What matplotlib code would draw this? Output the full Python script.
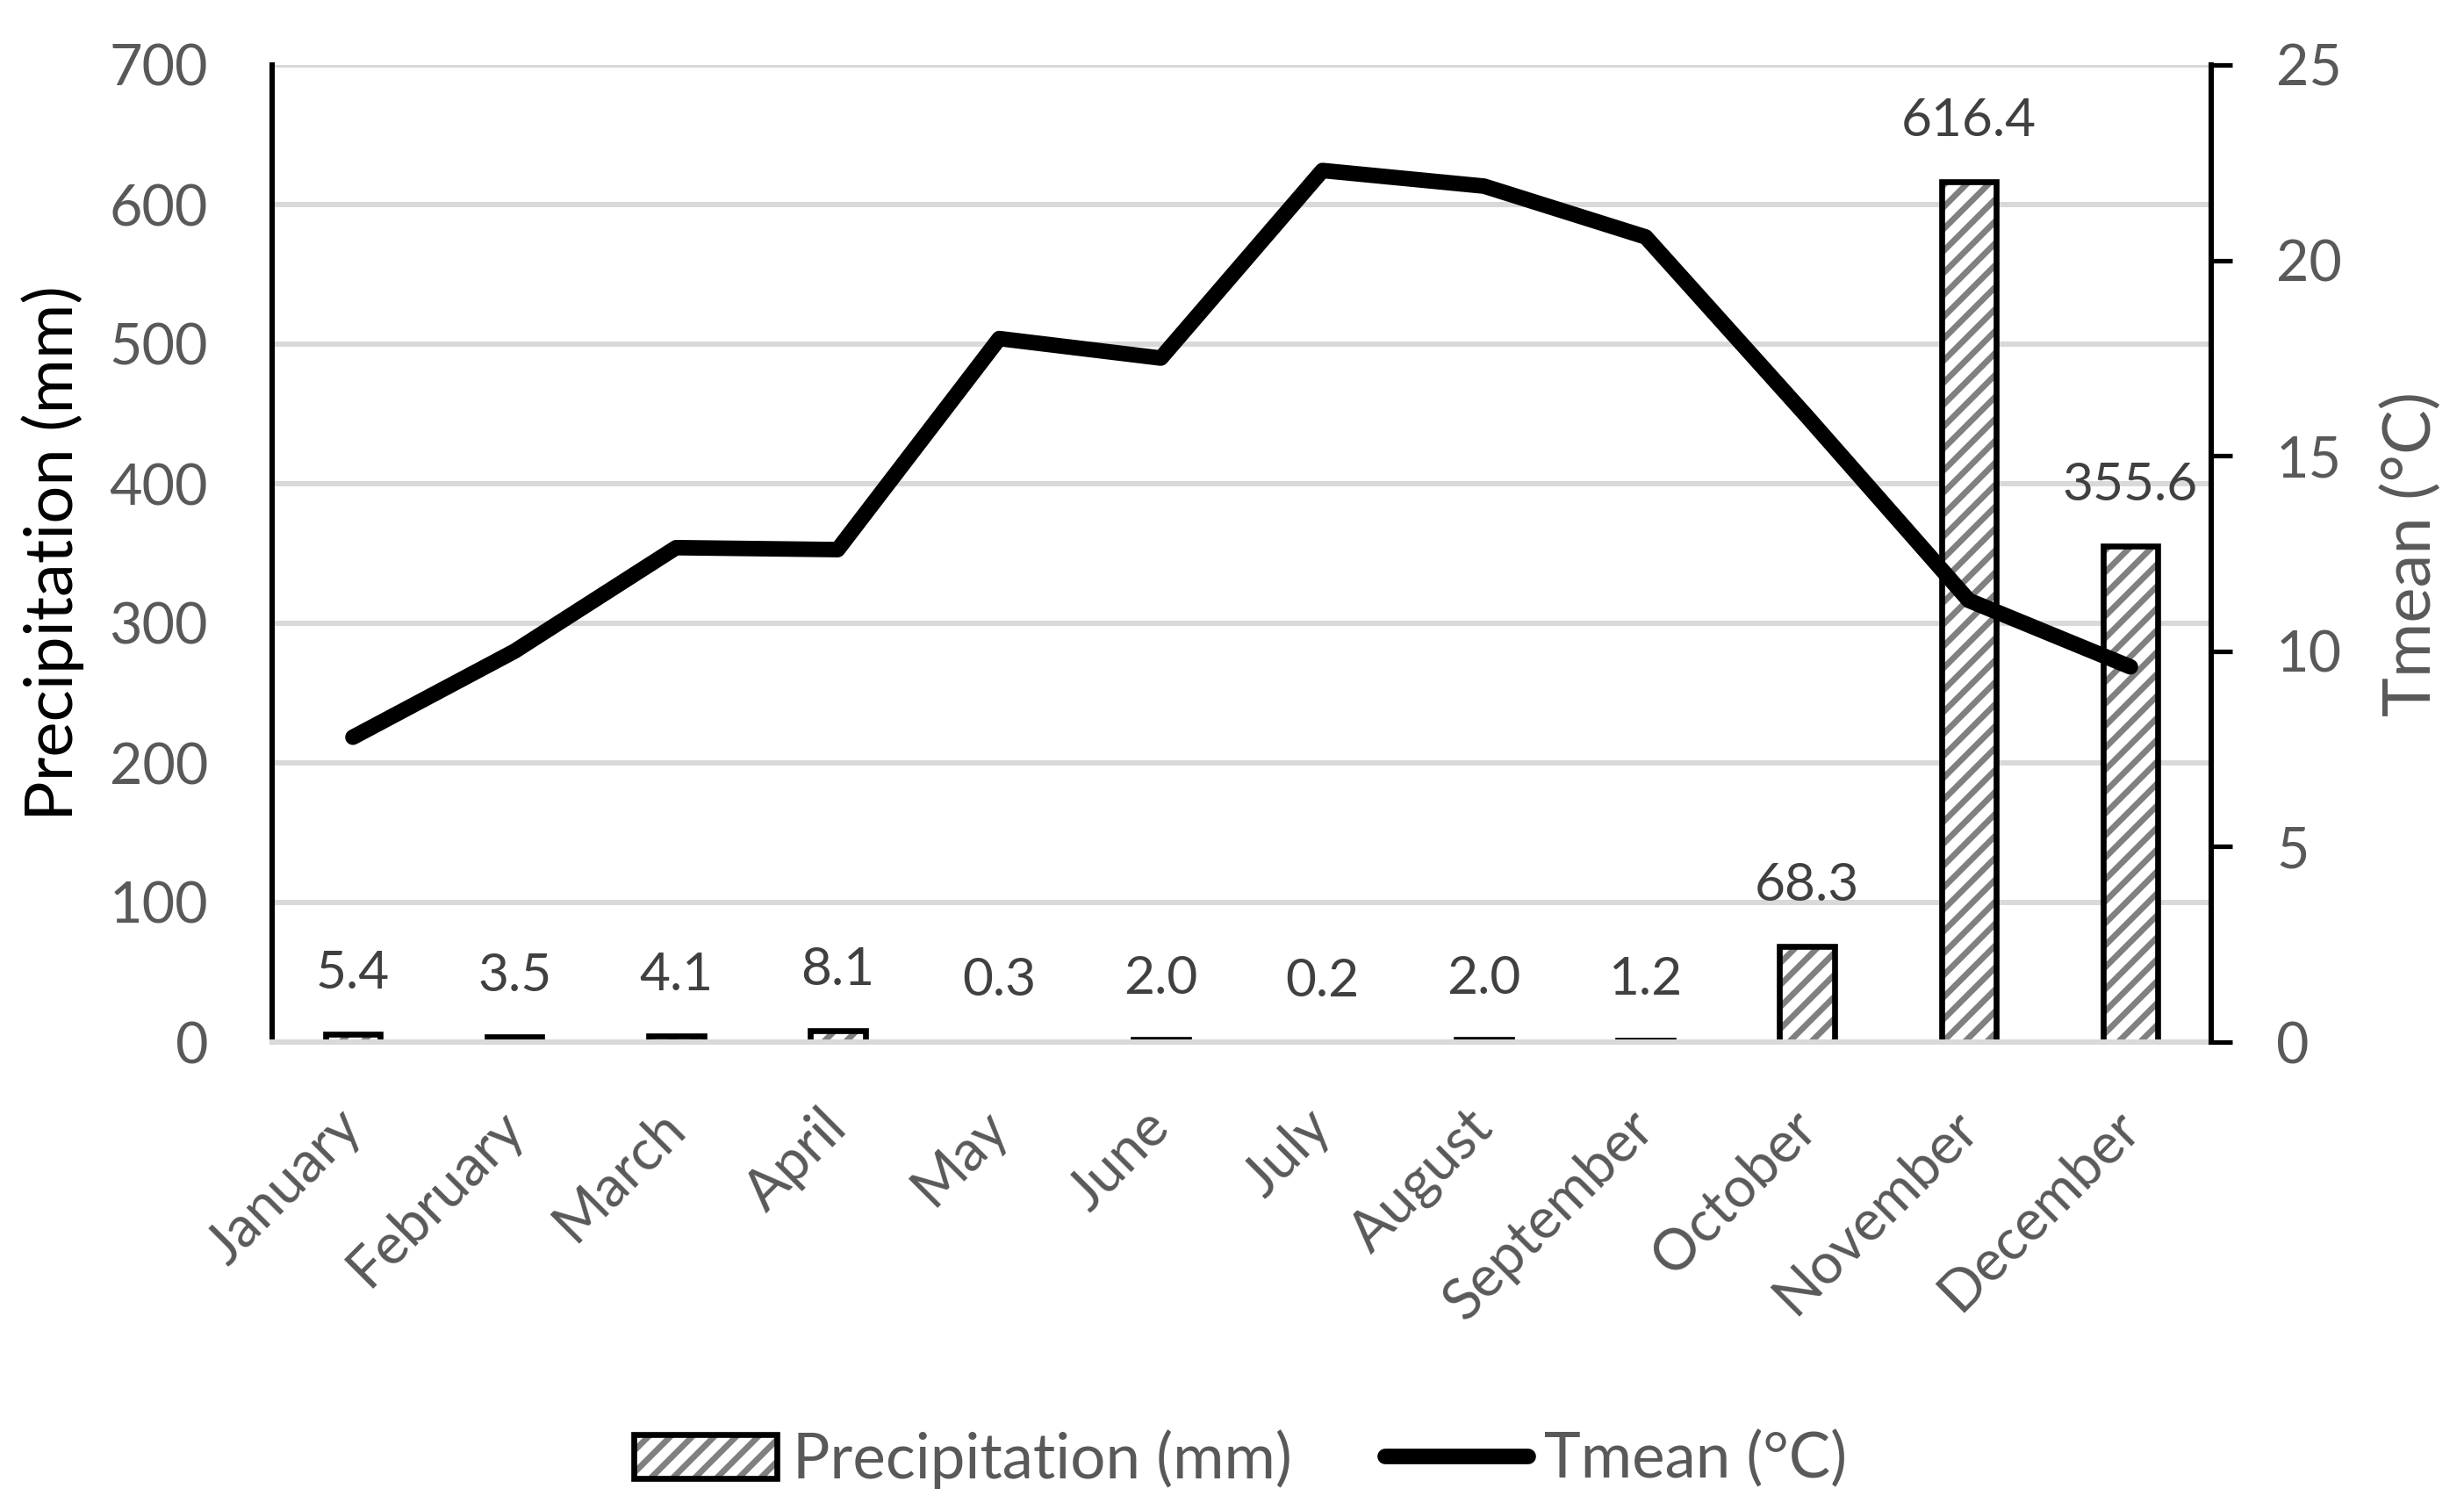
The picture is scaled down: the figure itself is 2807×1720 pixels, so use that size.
import matplotlib
matplotlib.use('Agg')
import matplotlib.pyplot as plt
from matplotlib.patches import Patch
import numpy as np

months = ['January', 'February', 'March', 'April', 'May', 'June', 'July',
          'August', 'September', 'October', 'November', 'December']
precip = [5.4, 3.5, 4.1, 8.1, 0.3, 2.0, 0.2, 2.0, 1.2, 68.3, 616.4, 355.6]
tmean = [7.8, 10.0, 12.65, 12.6, 18.0, 17.5, 22.3, 21.9, 20.6, 16.0, 11.3, 9.6]

plt.rcParams['font.family'] = ['Lato', 'DejaVu Sans']
plt.rcParams['hatch.linewidth'] = 3.3
plt.rcParams['hatch.color'] = '#808080'

DPI = 150
fig = plt.figure(figsize=(2807 / DPI, 1720 / DPI), dpi=DPI)
ax = fig.add_axes([310 / 2807, 1 - 1187 / 1720, (2519 - 310) / 2807, (1187 - 74) / 1720])
ax2 = ax.twinx()

tick_col = '#595959'
grid_col = '#D9D9D9'
hatch_col = '#808080'
x = np.arange(len(months))

# bars: gray hatch on white, black outline drawn on top separately
hb = ax.bar(x, precip, width=0.34, color='white', edgecolor=hatch_col, hatch='//', linewidth=0, zorder=1)
for p in hb:
    if hasattr(p, 'set_hatch_linewidth'):
        p.set_hatch_linewidth(3.3)
ax.bar(x, precip, width=0.34, fill=False, edgecolor='black', linewidth=3.2, zorder=1.5)

for xi, v in zip(x, precip):
    ax.annotate('%.1f' % v, (xi, v), xytext=(0, 25), textcoords='offset points',
                ha='center', va='baseline', fontsize=29, color='#404040')

ax.set_xlim(-0.5, 11.5)
ax.set_ylim(0, 700)
ax.set_yticks(range(0, 701, 100))
ax.yaxis.grid(True, color=grid_col, linewidth=2.9)
ax.set_axisbelow(True)
ax.tick_params(axis='y', length=0, pad=35, labelsize=31, labelcolor=tick_col)
ax.set_xticks(x)
ax.set_xticklabels(months, rotation=45, ha='right', va='center', rotation_mode='anchor')
ax.tick_params(axis='x', length=0, pad=42, labelsize=31, labelcolor=tick_col)
for s in ['top', 'right']:
    ax.spines[s].set_visible(False)
ax.spines['left'].set_color('black')
ax.spines['left'].set_linewidth(2.9)
ax.spines['bottom'].set_color(grid_col)
ax.spines['bottom'].set_linewidth(2.9)

line, = ax2.plot(x, tmean, color='black', linewidth=8.5, solid_capstyle='round')
ax2.set_ylim(0, 25)
ax2.set_yticks(range(0, 26, 5))
ax2.tick_params(axis='y', length=11.5, width=2.5, color='black', direction='out',
                pad=24, labelsize=31, labelcolor=tick_col)
for s in ['top', 'left', 'bottom']:
    ax2.spines[s].set_visible(False)
ax2.spines['right'].set_color('black')
ax2.spines['right'].set_linewidth(2.9)

fig.text(60 / 2807, 1 - 630 / 1720, 'Precipitation (mm)', rotation=90, ha='center', va='center',
         fontsize=36.5, color='black')
fig.text(2747 / 2807, 1 - 631 / 1720, 'Tmean (°C)', rotation=90, ha='center', va='center',
         fontsize=36.5, color=tick_col)

h_hatch = Patch(facecolor='white', edgecolor=hatch_col, hatch='//', linewidth=0)
if hasattr(h_hatch, 'set_hatch_linewidth'):
    h_hatch.set_hatch_linewidth(3.3)
h_edge = Patch(fill=False, edgecolor='black', linewidth=3.2)
leg = fig.legend([(h_hatch, h_edge), line], ['Precipitation (mm)', 'Tmean (°C)'], loc='center',
                 bbox_to_anchor=(1413 / 2807, 1 - 1662 / 1720), ncol=2, frameon=False,
                 fontsize=34, handlelength=2.3, handleheight=0.7, handletextpad=0.25,
                 columnspacing=1.5, labelcolor=tick_col)

fig.savefig('out.png', dpi=DPI)
